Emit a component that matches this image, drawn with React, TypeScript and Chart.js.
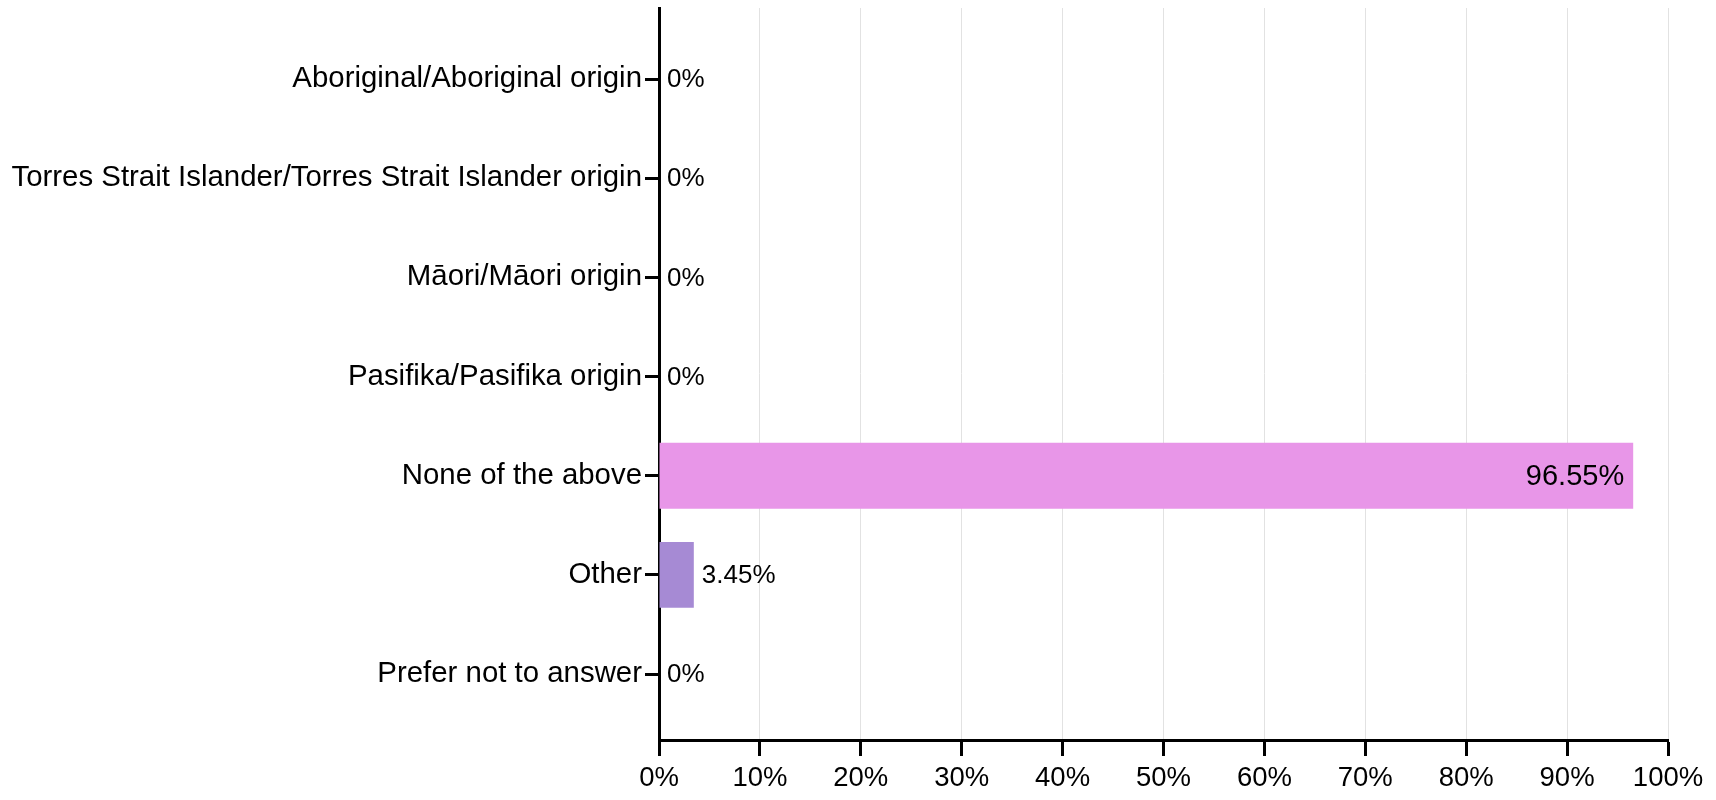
import React, { useEffect, useRef } from "react";
import { Chart, registerables } from "chart.js";

Chart.register(...registerables);

const categories: string[] = [
  "Aboriginal/Aboriginal origin",
  "Torres Strait Islander/Torres Strait Islander origin",
  "Māori/Māori origin",
  "Pasifika/Pasifika origin",
  "None of the above",
  "Other",
  "Prefer not to answer",
];
const values: number[] = [0, 0, 0, 0, 96.55, 3.45, 0];
const valueLabels: string[] = ["0%", "0%", "0%", "0%", "96.55%", "3.45%", "0%"];
const barColors: string[] = [
  "#E896E8",
  "#E896E8",
  "#E896E8",
  "#E896E8",
  "#E896E8",
  "#A68AD4",
  "#E896E8",
];
const xTicks: number[] = [0, 10, 20, 30, 40, 50, 60, 70, 80, 90, 100];

const FONT = "'Liberation Sans', Arial, sans-serif";

const labelPlugin = {
  id: "valueLabels",
  afterDatasetsDraw(chart: any) {
    const ctx = chart.ctx;
    const meta = chart.getDatasetMeta(0);
    ctx.save();
    ctx.fillStyle = "#000";
    ctx.textBaseline = "middle";
    meta.data.forEach((bar: any, i: number) => {
      const v = values[i];
      const base = chart.scales.x.getPixelForValue(0);
      const end = chart.scales.x.getPixelForValue(v);
      if (v > 50) {
        ctx.font = `29px ${FONT}`;
        ctx.textAlign = "right";
        ctx.fillText(valueLabels[i], end - 9, bar.y + 1);
      } else {
        ctx.font = `26px ${FONT}`;
        ctx.textAlign = "left";
        ctx.fillText(valueLabels[i], Math.max(base, end) + 8, bar.y + 1);
      }
    });
    ctx.restore();
  },
};

export default function App() {
  const ref = useRef<HTMLCanvasElement | null>(null);
  useEffect(() => {
    document.body.style.margin = "0";
    if (!ref.current) return;
    const chart = new Chart(ref.current, {
      type: "bar",
      data: {
        datasets: [
          {
            data: values.map((v, i) => ({ x: v, y: i })),
            backgroundColor: barColors,
            borderWidth: 0,
            categoryPercentage: 0.8,
            barPercentage: 0.83,
          },
        ],
      },
      options: {
        indexAxis: "y",
        animation: false,
        responsive: false,
        maintainAspectRatio: false,
        layout: { padding: { top: 8, right: 48, left: 0, bottom: 0 } },
        plugins: {
          legend: { display: false },
          tooltip: { enabled: false },
        },
        scales: {
          x: {
            type: "linear",
            position: "bottom",
            min: 0,
            max: 100,
            afterBuildTicks: (s: any) => {
              s.ticks = xTicks.map((v) => ({ value: v }));
            },
            afterFit: (s: any) => {
              s.height = 60;
            },
            ticks: {
              callback: (v: any) => `${v}%`,
              font: { family: FONT, size: 27.5 },
              color: "#000",
              padding: 6,
              maxRotation: 0,
            },
            grid: {
              color: "#E2E2E2",
              lineWidth: 1,
              tickLength: 16,
              tickColor: "#000",
              tickWidth: 3,
            },
            border: { color: "#000", width: 3 },
          },
          y: {
            type: "linear",
            reverse: true,
            offset: false,
            min: -0.716,
            max: 6.665,
            afterBuildTicks: (s: any) => {
              s.ticks = categories.map((_, i) => ({ value: i }));
            },
            afterFit: (s: any) => {
              s.width = 659;
              s.paddingTop = 0;
              s.paddingBottom = 0;
            },
            ticks: {
              callback: (v: any) => categories[v as number] ?? "",
              font: { family: FONT, size: 29.4 },
              color: "#000",
              padding: 3,
              autoSkip: false,
            },
            grid: {
              offset: false,
              drawOnChartArea: false,
              tickLength: 14,
              tickColor: "#000",
              tickWidth: 3,
            },
            border: { color: "#000", width: 3 },
          },
        },
      },
      plugins: [labelPlugin],
    } as any);
    return () => chart.destroy();
  }, []);
  return (
    <div style={{ width: 1716, height: 800, background: "#fff" }}>
      <canvas ref={ref} width={1716} height={800} style={{ display: "block" }} />
    </div>
  );
}
